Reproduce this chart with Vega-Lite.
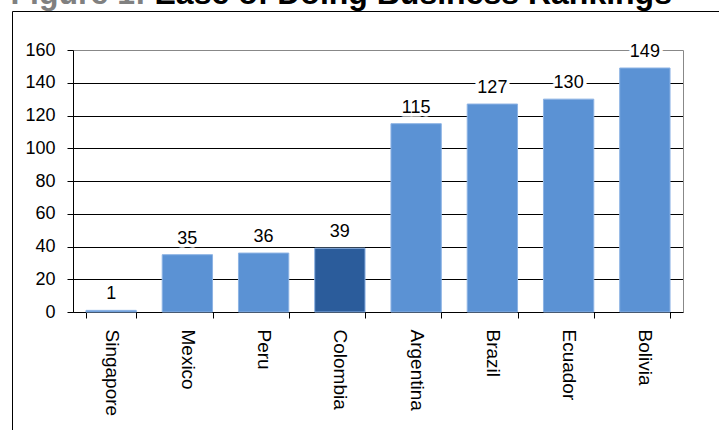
{
  "$schema": "https://vega.github.io/schema/vega-lite/v6.json",
  "width": 712,
  "height": 425,
  "autosize": {"type": "none"},
  "padding": {"left": 12, "top": 11, "right": 0, "bottom": 0},
  "background": "white",
  "config": {
    "view": {"stroke": "#000000", "strokeWidth": 1},
    "font": "Liberation Sans"
  },
  "data": {
    "values": [
      {"country": "Singapore", "rank": 1, "group": "other"},
      {"country": "Mexico", "rank": 35, "group": "other"},
      {"country": "Peru", "rank": 36, "group": "other"},
      {"country": "Colombia", "rank": 39, "group": "Colombia"},
      {"country": "Argentina", "rank": 115, "group": "other"},
      {"country": "Brazil", "rank": 127, "group": "other"},
      {"country": "Ecuador", "rank": 130, "group": "other"},
      {"country": "Bolivia", "rank": 149, "group": "other"}
    ]
  },
  "encoding": {
    "x": {
      "field": "country",
      "type": "nominal",
      "sort": null,
      "scale": {"range": [61, 671], "paddingInner": 0.34, "paddingOuter": 0.17},
      "axis": {
        "orient": "bottom",
        "offset": -124,
        "title": null,
        "labelAngle": 90,
        "labelAlign": "left",
        "labelBaseline": "middle",
        "labelFontSize": 19,
        "labelColor": "#000000",
        "labelPadding": 11,
        "tickSize": 6,
        "tickBand": "extent",
        "tickColor": "#000000",
        "domainColor": "#000000",
        "grid": false
      }
    }
  },
  "layer": [
    {
      "mark": {"type": "bar", "stroke": "#8db3e4", "strokeWidth": 1},
      "encoding": {
        "y": {
          "field": "rank",
          "type": "quantitative",
          "scale": {"domain": [0, 160], "range": [301, 39], "nice": false},
          "axis": {
            "orient": "left",
            "offset": -61,
            "values": [0, 20, 40, 60, 80, 100, 120, 140, 160],
            "labelFontSize": 18,
            "labelColor": "#000000",
            "labelPadding": 12,
            "tickSize": 6,
            "tickColor": "#000000",
            "domainColor": "#000000",
            "grid": true,
            "gridColor": {"condition": {"test": "datum.value == 160", "value": "#888888"}, "value": "#000000"},
            "gridOpacity": 1,
            "title": "Ease of Doing Business Rankings",
            "titleAngle": 0,
            "titleAlign": "left",
            "titleBaseline": "alphabetic",
            "titleX": 81,
            "titleY": -8,
            "titleFont": "Liberation Sans",
            "titleFontSize": 32,
            "titleFontWeight": "bold",
            "titleColor": "#000000"
          }
        },
        "color": {
          "field": "group",
          "type": "nominal",
          "scale": {"domain": ["other", "Colombia"], "range": ["#5B92D4", "#2B5C9B"]},
          "legend": null
        }
      }
    },
    {
      "mark": {
        "type": "text",
        "baseline": "alphabetic",
        "dy": -11,
        "fontSize": 18,
        "fill": "white",
        "stroke": "white",
        "strokeWidth": 7,
        "strokeJoin": "round"
      },
      "encoding": {
        "y": {"field": "rank", "type": "quantitative", "axis": null},
        "text": {"field": "rank", "type": "quantitative"}
      }
    },
    {
      "mark": {
        "type": "text",
        "baseline": "alphabetic",
        "dy": -11,
        "fontSize": 18,
        "fill": "#000000"
      },
      "encoding": {
        "y": {
          "field": "rank",
          "type": "quantitative",
          "axis": {
            "orient": "right",
            "offset": -41,
            "labels": false,
            "ticks": false,
            "grid": false,
            "domainColor": "#888888",
            "title": "Figure 1:",
            "titleAngle": 0,
            "titleAlign": "left",
            "titleBaseline": "alphabetic",
            "titleX": -673,
            "titleY": -8,
            "titleFont": "Liberation Sans",
            "titleFontSize": 32,
            "titleFontWeight": "bold",
            "titleColor": "#808080"
          }
        },
        "text": {"field": "rank", "type": "quantitative"}
      }
    }
  ],
  "resolve": {"axis": {"y": "independent"}}
}
